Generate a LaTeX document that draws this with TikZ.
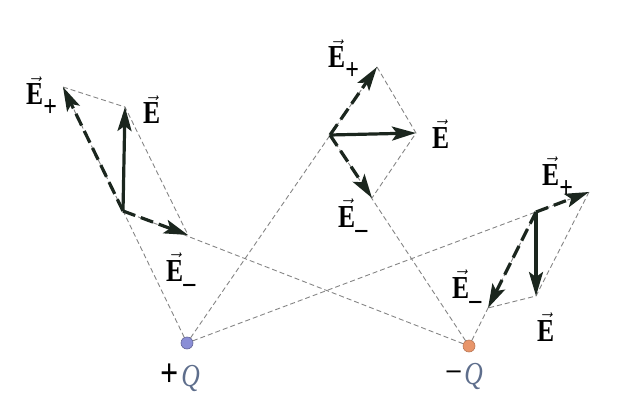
\documentclass[tikz,border=0pt]{standalone}
\usepackage{fontspec}
\setmainfont{Liberation Serif}
\newfontfamily\labfont[FakeStretch=0.8,Ligatures=TeX]{Liberation Serif}
\usetikzlibrary{arrows.meta}
\definecolor{arrowcol}{HTML}{1B261E}
\definecolor{guidecol}{HTML}{858585}
\definecolor{poscol}{HTML}{8A8ED6}
\definecolor{negcol}{HTML}{E8956A}
\definecolor{qcol}{HTML}{5E6E8C}
\newcommand{\Ev}{$\vec{\textbf{E}}$}
\newcommand{\Ep}{$\vec{\textbf{E}}$\raisebox{-12pt}{\fontsize{30}{30}\selectfont\textbf{+}}}
\newcommand{\Em}{$\vec{\textbf{E}}$\raisebox{-11pt}{\fontsize{30}{30}\selectfont\textbf{\char"2013}}}
\begin{document}
\begin{tikzpicture}[x=1pt,y=-1pt,
  guide/.style={draw=guidecol, line width=0.9pt, dash pattern=on 5pt off 3pt},
  vecarrow/.style={draw=arrowcol, line width=3.2pt, -{Stealth[length=24pt,width=14pt,inset=5pt]}},
  comp/.style={vecarrow, dash pattern=on 13pt off 6pt},
  lab/.style={inner sep=0pt, anchor=base west, font=\labfont\fontsize{32}{34}\selectfont},
  charge/.style={circle, inner sep=0pt, minimum size=12pt, line width=0.6pt}]
\useasboundingbox (0,0) rectangle (618,417);
% charges
\node[charge, fill=poscol, draw=poscol!70!black] (pq) at (187,343) {};
\node[charge, fill=negcol, draw=negcol!80!black] (nq) at (469,346) {};
% field points and vector tips
\coordinate (P1) at (123,211);
\coordinate (P1p) at (63,87);
\coordinate (P1e) at (125,107);
\coordinate (P1m) at (188,235);
\coordinate (P2) at (330,135);
\coordinate (P2p) at (377,67);
\coordinate (P2e) at (416,133);
\coordinate (P2m) at (372,198);
\coordinate (P3) at (536,212);
\coordinate (P3p) at (589,192);
\coordinate (P3e) at (536,296);
\coordinate (P3m) at (488,308);
% guide lines
\draw[guide] (pq) -- (P1p);
\draw[guide] (nq) -- (P1);
\draw[guide] (P1p) -- (P1e) -- (P1m);
\draw[guide] (pq) -- (P2p);
\draw[guide] (nq) -- (P2);
\draw[guide] (P2p) -- (P2e) -- (P2m);
\draw[guide] (pq) -- (P3p);
\draw[guide] (nq) -- (P3);
\draw[guide] (P3p) -- (P3e) -- (P3m);
% vectors
\draw[comp] (P1) -- (P1p);
\draw[comp] (P1) -- (P1m);
\draw[vecarrow] (P1) -- (P1e);
\draw[comp] (P2) -- (P2p);
\draw[comp] (P2) -- (P2m);
\draw[vecarrow] (P2) -- (P2e);
\draw[comp] (P3) -- (P3p);
\draw[comp] (P3) -- (P3m);
\draw[vecarrow] (P3) -- (P3e);
% labels
\node[lab] (l1p) at (26,105) {\Ep};
\node[lab] (l1e) at (143,124) {\Ev};
\node[lab] (l1m) at (166,281) {\Em};
\node[lab] (l2p) at (328,68) {\Ep};
\node[lab] (l2e) at (432,148) {\Ev};
\node[lab] (l2m) at (338,227) {\Em};
\node[lab] (l3p) at (542,185) {\Ep};
\node[lab] (l3e) at (537,341) {\Ev};
\node[lab] (l3m) at (452,298) {\Em};
\node[lab] (lpq) at (160,386) {{\fontsize{40}{40}\selectfont\textbf{+}}\hspace{3pt}\textcolor{qcol}{\textit{Q}}};
\node[lab] (lnq) at (445,384) {{\fontsize{38}{38}\selectfont\char"2212}\hspace{2pt}\textcolor{qcol}{\textit{Q}}};
\end{tikzpicture}
\end{document}
